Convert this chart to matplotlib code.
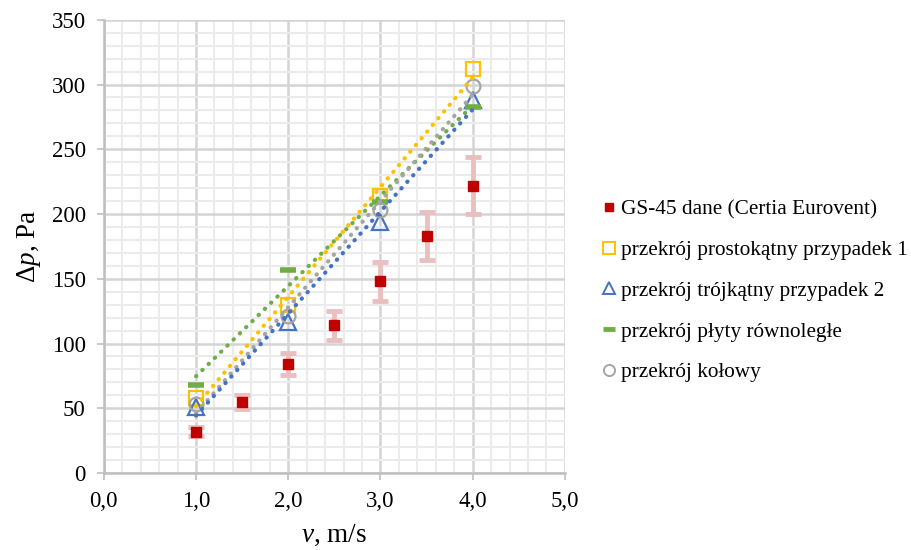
import numpy as np
import matplotlib
matplotlib.use("Agg")
import matplotlib.pyplot as plt
from matplotlib.ticker import MultipleLocator, FuncFormatter
from matplotlib.lines import Line2D

plt.rcParams['font.family'] = ['Liberation Serif', 'DejaVu Serif']
plt.rcParams['mathtext.fontset'] = 'custom'
plt.rcParams['mathtext.rm'] = 'Liberation Serif'
plt.rcParams['mathtext.it'] = 'Liberation Serif:italic'

# data
v_meas = [1.0, 1.5, 2.0, 2.5, 3.0, 3.5, 4.0]
dp_meas = [32, 55, 84, 114, 148, 183, 222]
dp_err = [3.2, 5.5, 8.4, 11.4, 14.8, 18.3, 22.2]

v_model = [1.0, 2.0, 3.0, 4.0]
dp_rect = [58, 130, 214, 312]
dp_tri = [51, 117, 194, 288]
dp_plates = [68, 157, 209, 283]
dp_circ = [53, 121, 203, 299]

labels = ["GS-45 dane (Certia Eurovent)",
          "przekrój prostokątny przypadek 1",
          "przekrój trójkątny przypadek 2",
          "przekrój płyty równoległe",
          "przekrój kołowy"]

c_red = '#C00000'
c_yel = '#FFC000'
c_blu = '#4472C4'
c_grn = '#70AD47'
c_gry = '#A5A5A5'

fig = plt.figure(figsize=(9.11, 5.5), dpi=100)
ax = fig.add_axes([0.114, 0.14, 0.506, 0.824])

ax.set_xlim(0, 5)
ax.set_ylim(0, 350)
ax.xaxis.set_major_locator(MultipleLocator(1))
ax.xaxis.set_minor_locator(MultipleLocator(0.2))
ax.yaxis.set_major_locator(MultipleLocator(50))
ax.yaxis.set_minor_locator(MultipleLocator(10))
ax.xaxis.set_major_formatter(FuncFormatter(lambda x, p: f"{x:.1f}".replace('.', ',')))
ax.yaxis.set_major_formatter(FuncFormatter(lambda y, p: f"{y:.0f}"))

ax.grid(which='minor', color='#EBEBEB', linewidth=1.5, zorder=0)
ax.grid(which='major', color='#D4D4D4', linewidth=1.8, zorder=0)
ax.set_axisbelow(True)
for s in ['top', 'right']:
    ax.spines[s].set_visible(False)
for s in ['left', 'bottom']:
    ax.spines[s].set_color('#BFBFBF')
    ax.spines[s].set_linewidth(1.8)
ax.tick_params(which='major', length=5, width=1.2, color='#BFBFBF', labelsize=16.5)
ax.tick_params(axis='y', which='major', pad=8)
ax.tick_params(axis='x', which='major', pad=8)
ax.tick_params(which='minor', length=0)

# error bars
ax.errorbar(v_meas, dp_meas, yerr=dp_err, fmt='none', ecolor='#EABFC0',
            elinewidth=3.5, capsize=5.5, capthick=3.5, zorder=2)
ax.plot(v_meas, dp_meas, linestyle='none', marker='s', markersize=7.5,
        color=c_red, zorder=5)

# model markers
ax.plot(v_model, dp_rect, linestyle='none', marker='s', markersize=10,
        markerfacecolor='none', markeredgecolor=c_yel, markeredgewidth=1.6, zorder=4)
ax.plot(v_model, dp_tri, linestyle='none', marker='^', markersize=11,
        markerfacecolor='none', markeredgecolor=c_blu, markeredgewidth=1.6, zorder=4)
ax.plot(v_model, dp_plates, linestyle='none', marker='_', markersize=12,
        markeredgecolor=c_grn, markeredgewidth=4, zorder=4)
ax.plot(v_model, dp_circ, linestyle='none', marker='o', markersize=10,
        markerfacecolor='none', markeredgecolor=c_gry, markeredgewidth=1.6, zorder=4)

# linear trendlines
xs = np.array([min(v_model), max(v_model)])
for ys, c in [(dp_plates, c_grn), (dp_rect, c_yel), (dp_circ, c_gry), (dp_tri, c_blu)]:
    k, b = np.polyfit(v_model, ys, 1)
    ax.plot(xs, k * xs + b, color=c, linewidth=3, linestyle=(0, (0.1, 2.0)),
            dash_capstyle='round', zorder=6)

ax.set_xlabel(r"$v$, m/s", fontsize=19.5, labelpad=8)
ax.set_ylabel(r"Δ$p$, Pa", fontsize=19.5, labelpad=6)

handles = [
    Line2D([], [], linestyle='none', marker='s', markersize=6, color=c_red),
    Line2D([], [], linestyle='none', marker='s', markersize=8, markerfacecolor='none',
           markeredgecolor=c_yel, markeredgewidth=1.4),
    Line2D([], [], linestyle='none', marker='^', markersize=8, markerfacecolor='none',
           markeredgecolor=c_blu, markeredgewidth=1.4),
    Line2D([], [], linestyle='none', marker='_', markersize=9, markeredgecolor=c_grn,
           markeredgewidth=3.5),
    Line2D([], [], linestyle='none', marker='o', markersize=8, markerfacecolor='none',
           markeredgecolor=c_gry, markeredgewidth=1.4),
]
fig.legend(handles, labels, loc='center left', bbox_to_anchor=(0.652, 0.471),
           frameon=False, fontsize=15.3, handlelength=0.6, handletextpad=0.25,
           labelspacing=0.98, borderaxespad=0)

fig.savefig("out.png", dpi=100)
